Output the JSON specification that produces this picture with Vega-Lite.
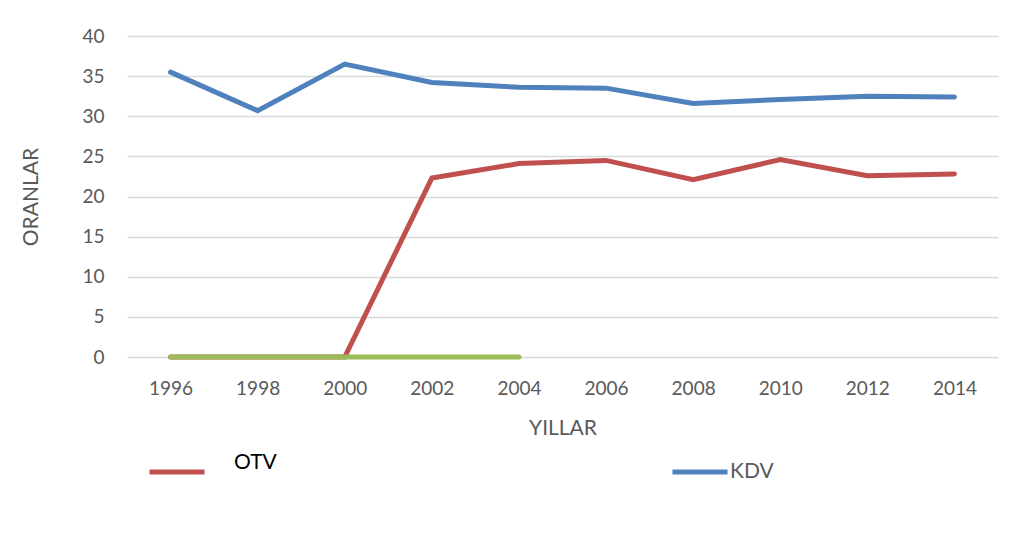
{
  "$schema": "https://vega.github.io/schema/vega-lite/v6.json",
  "autosize": {"type": "none"},
  "padding": {"left": 127, "top": 36, "right": 18, "bottom": 143},
  "width": 871,
  "height": 321,
  "background": "white",
  "config": {
    "view": {"stroke": null},
    "font": "Lato",
    "axis": {"labelFont": "Lato", "titleFont": "Lato", "labelColor": "#595959", "titleColor": "#595959", "titleFontWeight": "normal", "gridColor": "#D9D9D9", "gridWidth": 1.5, "domain": false, "ticks": false}
  },
  "datasets": {
    "main": [
      {"year": "1996", "series": "KDV", "value": 35.5},
      {"year": "1998", "series": "KDV", "value": 30.7},
      {"year": "2000", "series": "KDV", "value": 36.5},
      {"year": "2002", "series": "KDV", "value": 34.2},
      {"year": "2004", "series": "KDV", "value": 33.6},
      {"year": "2006", "series": "KDV", "value": 33.5},
      {"year": "2008", "series": "KDV", "value": 31.6},
      {"year": "2010", "series": "KDV", "value": 32.1},
      {"year": "2012", "series": "KDV", "value": 32.5},
      {"year": "2014", "series": "KDV", "value": 32.4},
      {"year": "1996", "series": "OTV", "value": 0},
      {"year": "1998", "series": "OTV", "value": 0},
      {"year": "2000", "series": "OTV", "value": 0},
      {"year": "2002", "series": "OTV", "value": 22.3},
      {"year": "2004", "series": "OTV", "value": 24.1},
      {"year": "2006", "series": "OTV", "value": 24.5},
      {"year": "2008", "series": "OTV", "value": 22.1},
      {"year": "2010", "series": "OTV", "value": 24.6},
      {"year": "2012", "series": "OTV", "value": 22.6},
      {"year": "2014", "series": "OTV", "value": 22.8}
    ],
    "third": [
      {"year": "1996", "value": 0},
      {"year": "1998", "value": 0},
      {"year": "2000", "value": 0},
      {"year": "2002", "value": 0},
      {"year": "2004", "value": 0}
    ]
  },
  "encoding": {
    "x": {"field": "year", "type": "ordinal", "sort": null,
      "scale": {"type": "point", "padding": 0.5, "domain": ["1996","1998","2000","2002","2004","2006","2008","2010","2012","2014"]},
      "axis": {"title": "YILLAR", "labelAngle": 0, "labelFontSize": 19, "labelPadding": 22, "titleFontSize": 21, "titlePadding": 19, "grid": false}},
    "y": {"field": "value", "type": "quantitative",
      "scale": {"domain": [0, 40], "nice": false},
      "axis": {"title": "ORANLAR", "values": [0,5,10,15,20,25,30,35,40], "labelFontSize": 19, "labelPadding": 23, "titleFontSize": 21, "titlePadding": 40}}
  },
  "layer": [
    {
      "data": {"name": "main"},
      "mark": {"type": "line", "strokeWidth": 5, "strokeCap": "round", "strokeJoin": "miter"},
      "encoding": {
        "color": {"field": "series", "type": "nominal",
          "scale": {"domain": ["OTV", "KDV"], "range": ["#C0504D", "#4F81BD"]},
          "legend": {"title": null, "orient": "none", "legendX": 20, "legendY": 406, "direction": "horizontal", "columns": 2,
            "symbolType": "stroke", "symbolSize": 3025, "symbolStrokeWidth": 5, "labelOffset": 15, "columnPadding": 385,
            "labelFontSize": 21, "labelColor": "#595959", "labelFont": "Lato",
            "encode": {"labels": {"update": {"fill": {"signal": "datum.label == 'OTV' ? '#000000' : '#595959'"}, "dy": {"signal": "datum.label == 'OTV' ? -9 : 0"}, "dx": {"signal": "datum.label == 'OTV' ? 12 : -15"}}}}}}
      }
    },
    {
      "data": {"name": "third"},
      "mark": {"type": "line", "strokeWidth": 5, "strokeCap": "round", "color": "#9BBB59"},
      "encoding": {}
    }
  ]
}
